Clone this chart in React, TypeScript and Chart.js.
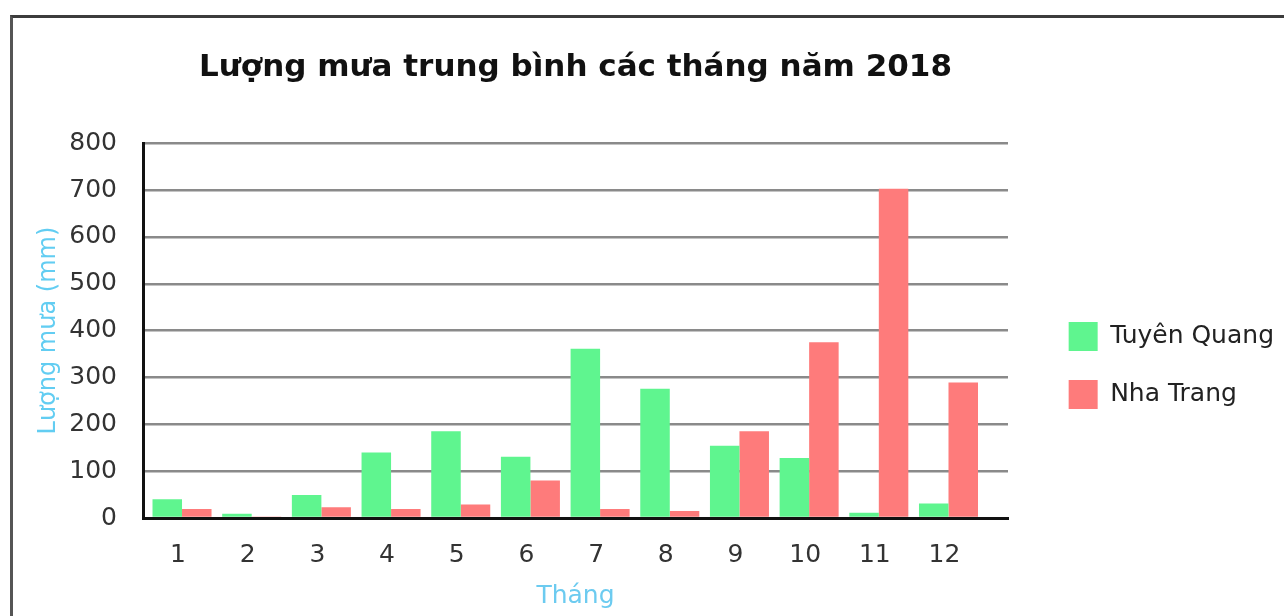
import React, { useEffect, useRef } from "react";
import { Chart, registerables } from "chart.js";

Chart.register(...registerables);

const months = [1, 2, 3, 4, 5, 6, 7, 8, 9, 10, 11, 12];
const tuyenQuang = [40, 9, 49, 140, 185, 131, 361, 276, 154, 128, 11, 31];
const nhaTrang = [19, 2, 23, 19, 29, 80, 19, 15, 185, 375, 703, 289];
const yTicks = [0, 100, 200, 300, 400, 500, 600, 700, 800];

const seriesNames = ["Tuyên Quang", "Nha Trang"];
const titleText = "Lượng mưa trung bình các tháng năm 2018";
const yTitle = "Lượng mưa (mm)";
const xTitle = "Tháng";

export default function App() {
  const ref = useRef<HTMLCanvasElement | null>(null);

  useEffect(() => {
    if (!ref.current) return;
    const font = "'DejaVu Sans', sans-serif";
    const chart = new Chart(ref.current, {
      type: "bar",
      data: {
        datasets: [
          {
            label: seriesNames[0],
            data: months.map((m, i) => ({ x: m, y: tuyenQuang[i] })),
            backgroundColor: "#5ff58f",
            borderWidth: 0,
          },
          {
            label: seriesNames[1],
            data: months.map((m, i) => ({ x: m, y: nhaTrang[i] })),
            backgroundColor: "#fe7b7b",
            borderWidth: 0,
          },
        ],
      },
      options: {
        animation: false,
        responsive: true,
        maintainAspectRatio: false,
        layout: { padding: 0 },
        categoryPercentage: 0.847,
        barPercentage: 1,
        scales: {
          x: {
            type: "linear",
            offset: false,
            min: 0.44,
            max: 12.854,
            afterFit(s: any) {
              s.height = 98;
            },
            afterBuildTicks(s: any) {
              s.ticks = months.map((m) => ({ value: m }));
            },
            grid: { display: false, drawTicks: false },
            border: { display: true, color: "#111", width: 3 },
            ticks: {
              autoSkip: false,
              includeBounds: false,
              stepSize: 1,
              padding: 22,
              labelOffset: -4,
              color: "#333",
              font: { family: font, size: 25 },
              maxRotation: 0,
            },
            title: {
              display: true,
              text: xTitle,
              color: "#6ccbf0",
              font: { family: font, size: 25 },
              padding: { top: 0, bottom: 5 },
            },
          },
          y: {
            min: 0,
            max: 800,
            afterFit(s: any) {
              s.width = 143;
            },
            afterBuildTicks(s: any) {
              s.ticks = yTicks.map((v) => ({ value: v }));
            },
            grid: { color: "#8a8a8a", lineWidth: 2.5, drawTicks: false },
            border: { display: true, color: "#111", width: 3 },
            ticks: {
              padding: 26,
              color: "#333",
              font: { family: font, size: 25 },
            },
            title: {
              display: true,
              text: yTitle,
              color: "#62cdf2",
              font: { family: font, size: 24 },
              padding: { top: 34, bottom: 0 },
            },
          },
          y2: {
            position: "right",
            display: true,
            afterFit(s: any) {
              const lw = s.chart.legend ? s.chart.legend.width : 0;
              s.width = Math.max(0, s.chart.width - lw - 1008);
            },
            grid: { display: false, drawTicks: false },
            border: { display: false },
            ticks: { display: false },
          },
        },
        plugins: {
          title: {
            display: true,
            text: titleText,
            fullSize: false,
            color: "#111",
            font: { family: font, size: 31, weight: "bold" },
            padding: { top: 49, bottom: 57 },
          },
          legend: {
            position: "right",
            maxWidth: 400,
            title: { display: true, text: "", font: { size: 15, lineHeight: 1 }, padding: 50 },
            labels: {
              boxWidth: 29,
              boxHeight: 29,
              padding: 29,
              color: "#222",
              font: { family: font, size: 25 },
            },
          },
          tooltip: { enabled: false },
        },
      },
    });
    return () => chart.destroy();
  }, []);

  return (
    <div style={{ position: "fixed", inset: 0, overflow: "hidden", background: "#fff" }}>
      <div
        style={{
          position: "absolute",
          left: 10,
          top: 15,
          width: 1400,
          height: 800,
          borderTop: "3px solid #3c3c3c",
          borderLeft: "3px solid #555",
        }}
      />
      <div style={{ position: "absolute", left: 0, top: 0, width: 1284, height: 616 }}>
        <canvas ref={ref} />
      </div>
    </div>
  );
}
